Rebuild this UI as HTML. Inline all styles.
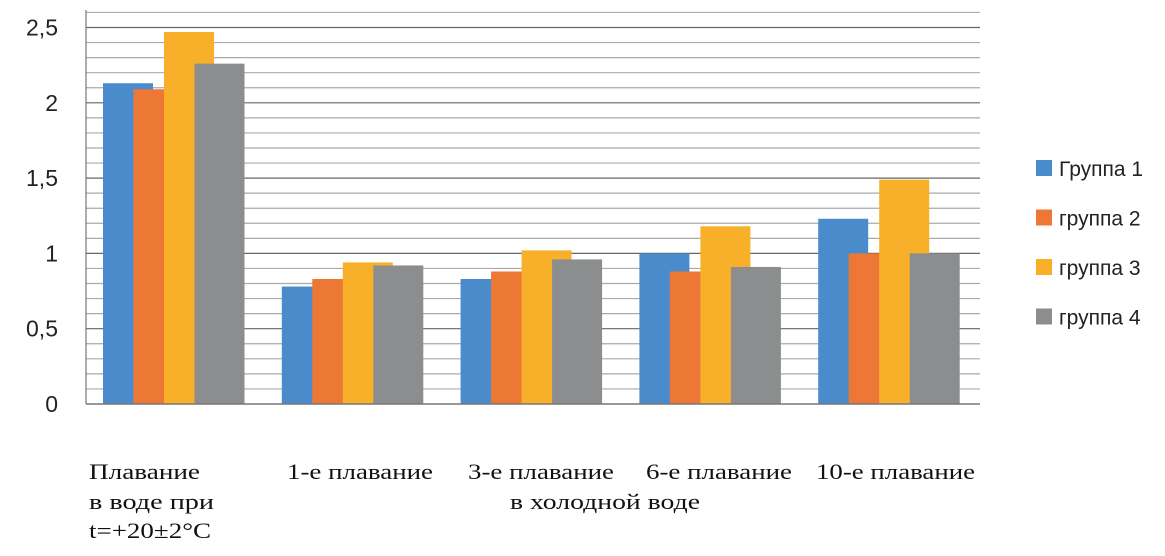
<!DOCTYPE html>
<html><head><meta charset="utf-8"><style>
body{margin:0;background:#fff;}
svg{display:block;}
</style></head><body>
<svg id="chart" width="1165" height="556" xmlns="http://www.w3.org/2000/svg">
<g id="grid"></g>
<g id="bars"></g>
<g id="yt" font-family="Liberation Sans, sans-serif" font-size="23" fill="#222" text-anchor="end"></g>
<line x1="86" y1="10" x2="86" y2="404" stroke="#777" stroke-width="1.2"/>
<line x1="86" y1="404" x2="980" y2="404" stroke="#777" stroke-width="1.5"/>
<g font-family="Liberation Serif, serif" font-size="22" fill="#111" lengthAdjust="spacingAndGlyphs">
<text x="89" y="479" textLength="111" lengthAdjust="spacingAndGlyphs">Плавание</text>
<text x="89" y="509" textLength="125" lengthAdjust="spacingAndGlyphs">в воде при</text>
<text x="89" y="538" textLength="122" lengthAdjust="spacingAndGlyphs">t=+20±2°C</text>
<text x="287" y="479" textLength="146" lengthAdjust="spacingAndGlyphs">1-е плавание</text>
<text x="468" y="479" textLength="146" lengthAdjust="spacingAndGlyphs">3-е плавание</text>
<text x="646" y="479" textLength="146" lengthAdjust="spacingAndGlyphs">6-е плавание</text>
<text x="816" y="479" textLength="159" lengthAdjust="spacingAndGlyphs">10-е плавание</text>
<text x="510" y="509" textLength="190" lengthAdjust="spacingAndGlyphs">в холодной воде</text>
</g>
<g id="legend" font-family="Liberation Sans, sans-serif" font-size="21" fill="#222"></g>
</svg>
<script>
const categories = ["Плавание в воде", "1-е плавание", "3-е плавание", "6-е плавание", "10-е плавание"];
const seriesNames = ["Группа 1", "группа 2", "группа 3", "группа 4"];
const group1 = [2.13, 0.78, 0.83, 1.0, 1.23];
const group2 = [2.09, 0.83, 0.88, 0.88, 1.0];
const group3 = [2.47, 0.94, 1.02, 1.18, 1.49];
const group4 = [2.26, 0.92, 0.96, 0.91, 1.0];
const yTicks = ["0", "0,5", "1", "1,5", "2", "2,5"];
const yTickValues = [0, 0.5, 1, 1.5, 2, 2.5];

const colors = ["#4a8bcc", "#ed7835", "#f8b02a", "#8c8d8e"];
const series = [group1, group2, group3, group4];
const NS = "http://www.w3.org/2000/svg";
const x0 = 86, x1 = 980, yBase = 404, pxPerUnit = 150.6;
const y = v => yBase - v * pxPerUnit;
const catW = (x1 - x0) / categories.length;

const grid = document.getElementById('grid');
for (let i = 1; i <= 26; i++) {
  const l = document.createElementNS(NS, 'line');
  
  
  const yy = y(i / 10);
  l.setAttribute('x1', x0); l.setAttribute('x2', x1);
  l.setAttribute('y1', yy); l.setAttribute('y2', yy);
  l.setAttribute('stroke', i % 5 === 0 ? '#666' : '#aaa');
  l.setAttribute('stroke-width', '1.2');
  grid.appendChild(l);
}
const yt = document.getElementById('yt');
yTicks.forEach((t, i) => {
  const tx = document.createElementNS(NS, 'text');
  
  
  tx.setAttribute('x', 58);
  tx.setAttribute('y', y(yTickValues[i]) + 8);
  tx.textContent = t;
  yt.appendChild(tx);
});
const bars = document.getElementById('bars');
const barW = 50, step = 30.5, off = 17;
categories.forEach((c, ci) => {
  series.forEach((s, si) => {
    const r = document.createElementNS(NS, 'rect');
    
    
    const bx = x0 + ci * catW + off + si * step;
    r.setAttribute('x', bx);
    r.setAttribute('y', y(s[ci]));
    r.setAttribute('width', barW);
    r.setAttribute('height', yBase - y(s[ci]));
    r.setAttribute('fill', colors[si]);
    bars.appendChild(r);
  });
});
const legend = document.getElementById('legend');
seriesNames.forEach((n, i) => {
  const cy = 168 + i * 49.5;
  const r = document.createElementNS(NS, 'rect');
  
  
  r.setAttribute('x', 1036); r.setAttribute('y', cy - 8);
  r.setAttribute('width', 16); r.setAttribute('height', 16);
  r.setAttribute('fill', colors[i]);
  legend.appendChild(r);
  const t = document.createElementNS(NS, 'text');
  
  
  t.setAttribute('x', 1059); t.setAttribute('y', cy + 8);
  t.textContent = n;
  legend.appendChild(t);
});
</script>
</body></html>
